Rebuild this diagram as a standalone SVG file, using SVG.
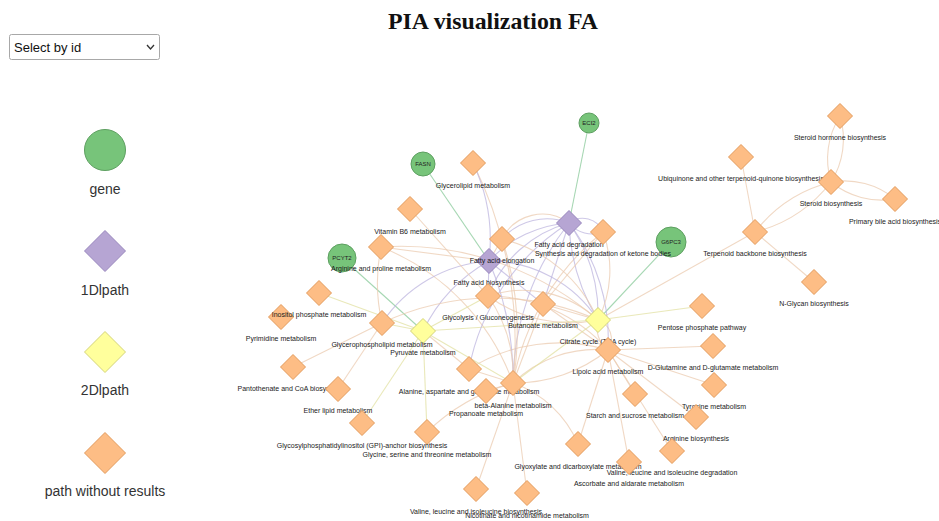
<svg xmlns="http://www.w3.org/2000/svg" xmlns:xlink="http://www.w3.org/1999/xlink" width="939" height="521" viewBox="0 0 939 521">
  <style>
    .title { font-family: "Liberation Serif", "DejaVu Serif", serif; font-weight: bold; font-size: 23px; fill: #111; text-anchor: middle; }
    .sel { font-family: "Liberation Sans", Arial, sans-serif; font-size: 13px; fill: #111; }
    .lgtxt { font-family: "Liberation Sans", Arial, sans-serif; font-size: 14px; fill: #333; text-anchor: middle; }
    .lbl { font-family: "Liberation Sans", Arial, sans-serif; font-size: 7px; fill: #1a1a1a; text-anchor: middle; }
    .glbl { font-family: "Liberation Sans", Arial, sans-serif; font-size: 6px; fill: #222; text-anchor: middle; }
    .gene circle { fill: #77c47a; stroke: #5d9f60; stroke-width: 1; }
    .p1 use { fill: #b6a5d3; stroke: #9886bd; stroke-width: 1; }
    .p2 use { fill: #ffff9c; stroke: #d4d47a; stroke-width: 1; }
    .p0 use { fill: #fdbd85; stroke: #e39b5c; stroke-width: 1; }
    #links path { fill: none; stroke-width: 1.1; stroke-opacity: 0.75; }
    #links .lg { stroke: #88c99a; }
    #links .lp { stroke: #bdb5df; }
    #links .ly { stroke: #e2e0a2; }
    #links .lo { stroke: #ebcbb0; }
  </style>
  <defs>
    <polygon id="dia" points="0,-12.5 12.5,0 0,12.5 -12.5,0"/>
    <polygon id="dia-lg" points="0,-20.5 20.5,0 0,20.5 -20.5,0"/>
  </defs>

  <rect width="939" height="521" fill="#ffffff"/>

  <!-- header -->
  <text class="title" x="493" y="29" textLength="210" lengthAdjust="spacingAndGlyphs">PIA visualization FA</text>
  <g id="select">
    <rect x="9.5" y="34.5" width="150" height="25" rx="2" fill="#fff" stroke="#a8a8a8"/>
    <text class="sel" x="14" y="52">Select by id</text>
    <path d="M147,45 L150.5,49 L154,45" fill="none" stroke="#333" stroke-width="1.3"/>
  </g>

  <!-- legend -->
  <g id="legend">
    <g class="gene"><circle cx="105" cy="150" r="20.5"/></g>
    <text class="lgtxt" x="105" y="194">gene</text>
    <g class="p1"><use href="#dia-lg" x="105" y="251"/></g>
    <text class="lgtxt" x="105" y="295">1Dlpath</text>
    <g class="p2"><use href="#dia-lg" x="105" y="352"/></g>
    <text class="lgtxt" x="105" y="395">2Dlpath</text>
    <g class="p0"><use href="#dia-lg" x="105" y="453"/></g>
    <text class="lgtxt" x="105" y="496">path without results</text>
  </g>

  <!-- connectors -->
  <g id="links">
    <!-- gene links -->
    <path class="lg" d="M589,123 L569,223"/>
    <path class="lg" d="M423,164 L489,261"/>
    <path class="lg" d="M342,258 L423,331"/>
    <path class="lg" d="M671,242 L598,320"/>

    <!-- steroid cluster -->
    <path class="lo" d="M840,116 A80,80 0 0,1 831,182"/>
    <path class="lo" d="M840,116 A80,80 0 0,0 831,182"/>
    <path class="lo" d="M831,182 A80,80 0 0,1 895,199"/>
    <path class="lo" d="M831,182 A80,80 0 0,0 895,199"/>
    <path class="lo" d="M831,182 A140,140 0 0,0 755,232"/>
    <path class="lo" d="M831,182 A140,140 0 0,1 755,232"/>
    <path class="lo" d="M741,157 L755,232"/>
    <path class="lo" d="M755,232 L814,282"/>
    <path class="lo" d="M755,232 L598,320"/>

    <!-- lipoic acid hub -->
    <path class="ly" d="M598,320 L702,306"/>
    <path class="lo" d="M608,350 L713,346"/>
    <path class="lo" d="M608,350 L714,385"/>
    <path class="lo" d="M608,350 L696,417"/>
    <path class="lo" d="M608,350 L672,451"/>
    <path class="lo" d="M608,350 L629,462"/>
    <path class="lo" d="M608,350 L635,394"/>
    <path class="lo" d="M608,350 L578,444"/>
    <path class="lo" d="M598,320 A20,20 0 0,1 608,350"/>
    <path class="lo" d="M598,320 A28,28 0 0,0 608,350"/>
    <path class="lo" d="M608,350 A120,120 0 0,0 513,383"/>
    <path class="lo" d="M608,350 A150,150 0 0,1 513,383"/>
    <path class="lo" d="M608,350 A170,170 0 0,0 469,369"/>
    <path class="lo" d="M608,350 A160,160 0 0,0 488,296"/>
    <path class="lo" d="M608,350 L543,304"/>
    <path class="lp" d="M569,223 A190,190 0 0,1 608,350"/>

    <!-- beta-alanine hub -->
    <path class="lp" d="M489,261 A300,300 0 0,1 513,383"/>
    <path class="lp" d="M569,223 A260,260 0 0,0 513,383"/>
    <path class="lo" d="M488,296 A140,140 0 0,1 513,383"/>
    <path class="lo" d="M543,304 L513,383"/>
    <path class="ly" d="M423,331 L513,383"/>
    <path class="ly" d="M598,320 L513,383"/>
    <path class="lo" d="M513,383 L486,391"/>
    <path class="lo" d="M513,383 L469,369"/>
    <path class="lo" d="M513,383 L476,489"/>
    <path class="lo" d="M513,383 L527,493"/>
    <path class="lo" d="M513,383 A110,110 0 0,1 578,444"/>
    <path class="lo" d="M513,383 A200,200 0 0,0 427,432"/>
    <path class="lo" d="M381,247 A230,230 0 0,1 513,383"/>
    <path class="lo" d="M473,163 A400,400 0 0,1 513,383"/>
    <path class="lo" d="M502,239 A300,300 0 0,1 513,383"/>
    <path class="lo" d="M603,232 A250,250 0 0,0 513,383"/>

    <!-- pyruvate -->
    <path class="ly" d="M423,331 L319,293"/>
    <path class="ly" d="M423,331 L382,323"/>
    <path class="ly" d="M423,331 L362,423"/>
    <path class="ly" d="M423,331 L427,432"/>
    <path class="lo" d="M423,331 L469,369"/>
    <path class="ly" d="M423,331 L598,320"/>
    <path class="ly" d="M423,331 L488,296"/>
    <path class="lp" d="M489,261 A160,160 0 0,0 423,331"/>

    <!-- glycerophospholipid -->
    <path class="lo" d="M382,323 L293,367"/>
    <path class="lo" d="M382,323 L338,389"/>
    <path class="lp" d="M489,261 A140,140 0 0,0 382,323"/>
    <path class="lo" d="M382,323 A260,260 0 0,1 598,320"/>
    <path class="lo" d="M381,247 A180,180 0 0,0 382,323"/>

    <!-- fatty acid cluster -->
    <path class="lp" d="M569,223 A120,120 0 0,0 489,261"/>
    <path class="lp" d="M569,223 A60,60 0 0,0 502,239"/>
    <path class="lo" d="M569,223 A45,45 0 0,0 502,239"/>
    <path class="lp" d="M569,223 A22,22 0 0,1 603,232"/>
    <path class="lp" d="M569,223 A30,30 0 0,0 603,232"/>
    <path class="lp" d="M569,223 A160,160 0 0,1 598,320"/>
    <path class="lp" d="M569,223 A200,200 0 0,0 598,320"/>
    <path class="lp" d="M569,223 L543,304"/>
    <path class="lp" d="M569,223 A120,120 0 0,0 488,296"/>
    <path class="lp" d="M569,223 A220,220 0 0,0 469,369"/>
    <path class="lp" d="M473,163 A180,180 0 0,1 489,261"/>
    <path class="lo" d="M502,239 L489,261"/>
    <path class="lp" d="M489,261 L488,296"/>
    <path class="lp" d="M489,261 A130,130 0 0,1 598,320"/>
    <path class="lp" d="M489,261 L543,304"/>
    <path class="lo" d="M410,209 L488,296"/>
    <path class="lo" d="M381,247 L489,261"/>
    <path class="lo" d="M381,247 A300,300 0 0,1 598,320"/>
    <path class="lo" d="M603,232 A110,110 0 0,1 598,320"/>
    <path class="lo" d="M603,232 L543,304"/>
    <path class="lo" d="M488,296 A110,110 0 0,1 598,320"/>
    <path class="lo" d="M488,296 A140,140 0 0,0 598,320"/>
    <path class="lo" d="M543,304 L598,320"/>
    <path class="lo" d="M502,239 A140,140 0 0,1 598,320"/>
  </g>

  <!-- genes -->
  <g id="node-ECI2" class="gene"><circle cx="589" cy="123" r="10"/><text class="glbl" x="589" y="125">ECI2</text></g>
  <g id="node-FASN" class="gene"><circle cx="423" cy="164" r="12"/><text class="glbl" x="423" y="166">FASN</text></g>
  <g id="node-PCYT2" class="gene"><circle cx="342" cy="258" r="14"/><text class="glbl" x="342" y="260">PCYT2</text></g>
  <g id="node-G6PC3" class="gene"><circle cx="671" cy="242" r="15"/><text class="glbl" x="671" y="244">G6PC3</text></g>

  <!-- 1D paths -->
  <g id="node-fa-degradation" class="p1" transform="translate(569,223)"><use href="#dia"/><text class="lbl" y="23.5">Fatty acid degradation</text></g>
  <g id="node-fa-biosynthesis" class="p1" transform="translate(489,261)"><use href="#dia"/><text class="lbl" y="23.5">Fatty acid biosynthesis</text></g>

  <!-- 2D paths -->
  <g id="node-pyruvate" class="p2" transform="translate(423,331)"><use href="#dia"/><text class="lbl" y="23.5">Pyruvate metabolism</text></g>
  <g id="node-tca" class="p2" transform="translate(598,320)"><use href="#dia"/><text class="lbl" y="23.5">Citrate cycle (TCA cycle)</text></g>

  <!-- paths without results -->
  <g id="node-steroid-hormone" class="p0" transform="translate(840,116)"><use href="#dia"/><text class="lbl" y="24">Steroid hormone biosynthesis</text></g>
  <g id="node-ubiquinone" class="p0" transform="translate(741,157)"><use href="#dia"/><text class="lbl" y="24">Ubiquinone and other terpenoid-quinone biosynthesis</text></g>
  <g id="node-steroid" class="p0" transform="translate(831,182)"><use href="#dia"/><text class="lbl" y="24">Steroid biosynthesis</text></g>
  <g id="node-bile-acid" class="p0" transform="translate(895,199)"><use href="#dia"/><text class="lbl" y="25">Primary bile acid biosynthesis</text></g>
  <g id="node-terpenoid" class="p0" transform="translate(755,232)"><use href="#dia"/><text class="lbl" y="23.5">Terpenoid backbone biosynthesis</text></g>
  <g id="node-n-glycan" class="p0" transform="translate(814,282)"><use href="#dia"/><text class="lbl" y="23.5">N-Glycan biosynthesis</text></g>
  <g id="node-pentose" class="p0" transform="translate(702,306)"><use href="#dia"/><text class="lbl" y="23.5">Pentose phosphate pathway</text></g>
  <g id="node-d-glutamine" class="p0" transform="translate(713,346)"><use href="#dia"/><text class="lbl" y="24">D-Glutamine and D-glutamate metabolism</text></g>
  <g id="node-tyrosine" class="p0" transform="translate(714,385)"><use href="#dia"/><text class="lbl" y="23.5">Tyrosine metabolism</text></g>
  <g id="node-starch" class="p0" transform="translate(635,394)"><use href="#dia"/><text class="lbl" y="24">Starch and sucrose metabolism</text></g>
  <g id="node-arginine-bio" class="p0" transform="translate(696,417)"><use href="#dia"/><text class="lbl" y="24">Arginine biosynthesis</text></g>
  <g id="node-glyoxylate" class="p0" transform="translate(578,444)"><use href="#dia"/><text class="lbl" y="25">Glyoxylate and dicarboxylate metabolism</text></g>
  <g id="node-valine-deg" class="p0" transform="translate(672,451)"><use href="#dia"/><text class="lbl" y="24">Valine, leucine and isoleucine degradation</text></g>
  <g id="node-ascorbate" class="p0" transform="translate(629,462)"><use href="#dia"/><text class="lbl" y="24">Ascorbate and aldarate metabolism</text></g>
  <g id="node-lipoic" class="p0" transform="translate(608,350)"><use href="#dia"/><text class="lbl" y="23.5">Lipoic acid metabolism</text></g>
  <g id="node-butanoate" class="p0" transform="translate(543,304)"><use href="#dia"/><text class="lbl" y="23.5">Butanoate metabolism</text></g>
  <g id="node-ketone" class="p0" transform="translate(603,232)"><use href="#dia"/><text class="lbl" y="23.5">Synthesis and degradation of ketone bodies</text></g>
  <g id="node-fa-elongation" class="p0" transform="translate(502,239)"><use href="#dia"/><text class="lbl" y="24">Fatty acid elongation</text></g>
  <g id="node-glycerolipid" class="p0" transform="translate(473,163)"><use href="#dia"/><text class="lbl" y="25">Glycerolipid metabolism</text></g>
  <g id="node-vitamin-b6" class="p0" transform="translate(410,209)"><use href="#dia"/><text class="lbl" y="25">Vitamin B6 metabolism</text></g>
  <g id="node-arg-pro" class="p0" transform="translate(381,247)"><use href="#dia"/><text class="lbl" y="23.5">Arginine and proline metabolism</text></g>
  <g id="node-glycolysis" class="p0" transform="translate(488,296)"><use href="#dia"/><text class="lbl" y="23.5">Glycolysis / Gluconeogenesis</text></g>
  <g id="node-pyrimidine" class="p0" transform="translate(281,317)"><use href="#dia"/><text class="lbl" y="23.5">Pyrimidine metabolism</text></g>
  <g id="node-inositol" class="p0" transform="translate(319,293)"><use href="#dia"/><text class="lbl" y="24">Inositol phosphate metabolism</text></g>
  <g id="node-glycerophospholipid" class="p0" transform="translate(382,323)"><use href="#dia"/><text class="lbl" y="24">Glycerophospholipid metabolism</text></g>
  <g id="node-pantothenate" class="p0" transform="translate(293,367)"><use href="#dia"/><text class="lbl" y="24">Pantothenate and CoA biosynthesis</text></g>
  <g id="node-ether-lipid" class="p0" transform="translate(338,389)"><use href="#dia"/><text class="lbl" y="24">Ether lipid metabolism</text></g>
  <g id="node-glycine" class="p0" transform="translate(427,432)"><use href="#dia"/><text class="lbl" y="24.5">Glycine, serine and threonine metabolism</text></g>
  <g id="node-gpi" class="p0" transform="translate(362,423)"><use href="#dia"/><text class="lbl" y="24.5">Glycosylphosphatidylinositol (GPI)-anchor biosynthesis</text></g>
  <g id="node-alanine" class="p0" transform="translate(469,369)"><use href="#dia"/><text class="lbl" y="24.5">Alanine, aspartate and glutamate metabolism</text></g>
  <g id="node-propanoate" class="p0" transform="translate(486,391)"><use href="#dia"/><text class="lbl" y="24.5">Propanoate metabolism</text></g>
  <g id="node-beta-alanine" class="p0" transform="translate(513,383)"><use href="#dia"/><text class="lbl" y="25">beta-Alanine metabolism</text></g>
  <g id="node-valine-bio" class="p0" transform="translate(476,489)"><use href="#dia"/><text class="lbl" y="24.5">Valine, leucine and isoleucine biosynthesis</text></g>
  <g id="node-nicotinate" class="p0" transform="translate(527,493)"><use href="#dia"/><text class="lbl" y="24.5">Nicotinate and nicotinamide metabolism</text></g>
</svg>
